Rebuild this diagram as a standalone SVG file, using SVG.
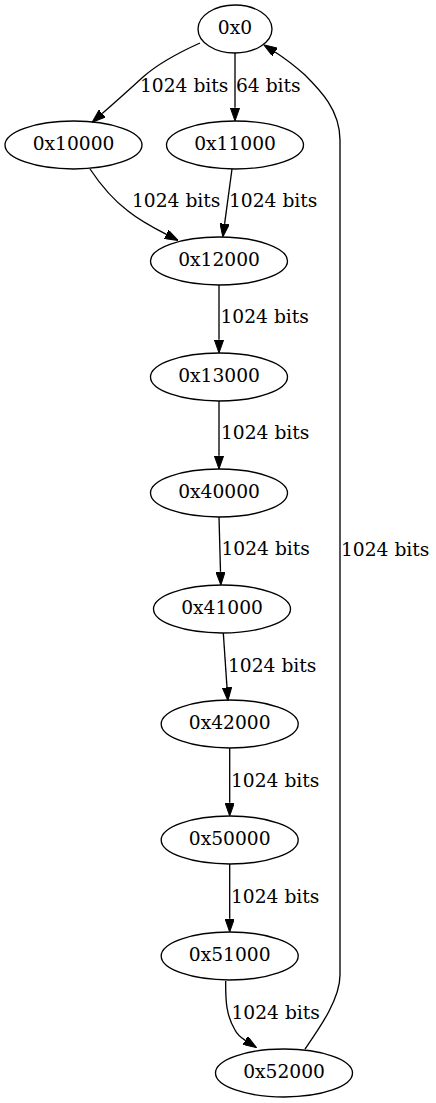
<svg xmlns="http://www.w3.org/2000/svg" width="436" height="1103" viewBox="0 0 436 1103">
<style>
  .n ellipse { fill: none; stroke: #000; stroke-width: 1.33; }
  text { font-family: "DejaVu Serif", "Liberation Serif", serif; font-size: 18.67px; fill: #000; }
  .n text { text-anchor: middle; }
  .e path { fill: none; stroke: #000; stroke-width: 1.33; marker-end: url(#ah); }
</style>
<defs>
  <marker id="ah" markerUnits="userSpaceOnUse" viewBox="0 0 13.3 9.4" refX="0" refY="4.7" markerWidth="13.3" markerHeight="9.4" orient="auto">
    <path d="M0,0 L13.3,4.7 L0,9.4 z" fill="#000" stroke="#000" stroke-width="1"/>
  </marker>
</defs>
<rect width="436" height="1103" fill="#fff"/>
<g id="edges" class="e">
  <path d="M200,43 C180,52 160,62 143,77 C131,88 112,105 102.2,113.5"/>
  <path d="M235,53 L235,107.7"/>
  <path d="M90,169 C100,184 112,199 128,211 C138,219 150,226 166.4,234.4"/>
  <path d="M232,169 L224.6,223.8"/>
  <path d="M219,285 L219,339.7"/>
  <path d="M219,401 L219,455.7"/>
  <path d="M219,517 L220.5,571.7"/>
  <path d="M223.3,633 L227,687.4"/>
  <path d="M229.7,748 L229.7,802.7"/>
  <path d="M229.7,864 L229.7,918.7"/>
  <path d="M225.7,981 C225.5,1000 226,1015 235,1030 C237,1034 240,1037 245.3,1040.4"/>
  <path d="M305,1049 C318,1030 340,1000 340,975 L340,140 C340,110 320,90 305,75 C296,67 286,59 275,52"/>
</g>
<g id="edge-labels">
  <text x="140" y="92">1024 bits</text>
  <text x="236" y="92">64 bits</text>
  <text x="132" y="207">1024 bits</text>
  <text x="229" y="207">1024 bits</text>
  <text x="220.5" y="323">1024 bits</text>
  <text x="221" y="439">1024 bits</text>
  <text x="221.5" y="555">1024 bits</text>
  <text x="228" y="672">1024 bits</text>
  <text x="231" y="787">1024 bits</text>
  <text x="231" y="903">1024 bits</text>
  <text x="231.5" y="1019">1024 bits</text>
  <text x="341" y="556">1024 bits</text>
</g>
<g id="n0" class="n"><ellipse cx="235" cy="29" rx="37" ry="24"/><text x="235" y="34">0x0</text></g>
<g id="n10000" class="n"><ellipse cx="73.5" cy="145" rx="68.5" ry="24"/><text x="73.5" y="150">0x10000</text></g>
<g id="n11000" class="n"><ellipse cx="235" cy="145" rx="68.5" ry="24"/><text x="235" y="150">0x11000</text></g>
<g id="n12000" class="n"><ellipse cx="219" cy="261" rx="68.5" ry="24"/><text x="219" y="266">0x12000</text></g>
<g id="n13000" class="n"><ellipse cx="219" cy="377" rx="68.5" ry="24"/><text x="219" y="382">0x13000</text></g>
<g id="n40000" class="n"><ellipse cx="219" cy="493" rx="68.5" ry="24"/><text x="219" y="498">0x40000</text></g>
<g id="n41000" class="n"><ellipse cx="222" cy="609" rx="68.5" ry="24"/><text x="222" y="614">0x41000</text></g>
<g id="n42000" class="n"><ellipse cx="229.7" cy="724" rx="68.5" ry="24"/><text x="229.7" y="729">0x42000</text></g>
<g id="n50000" class="n"><ellipse cx="229.7" cy="840" rx="68.5" ry="24"/><text x="229.7" y="845">0x50000</text></g>
<g id="n51000" class="n"><ellipse cx="229.7" cy="956" rx="68.5" ry="24"/><text x="229.7" y="961">0x51000</text></g>
<g id="n52000" class="n"><ellipse cx="284" cy="1073" rx="68.5" ry="24"/><text x="284" y="1078">0x52000</text></g>
</svg>
